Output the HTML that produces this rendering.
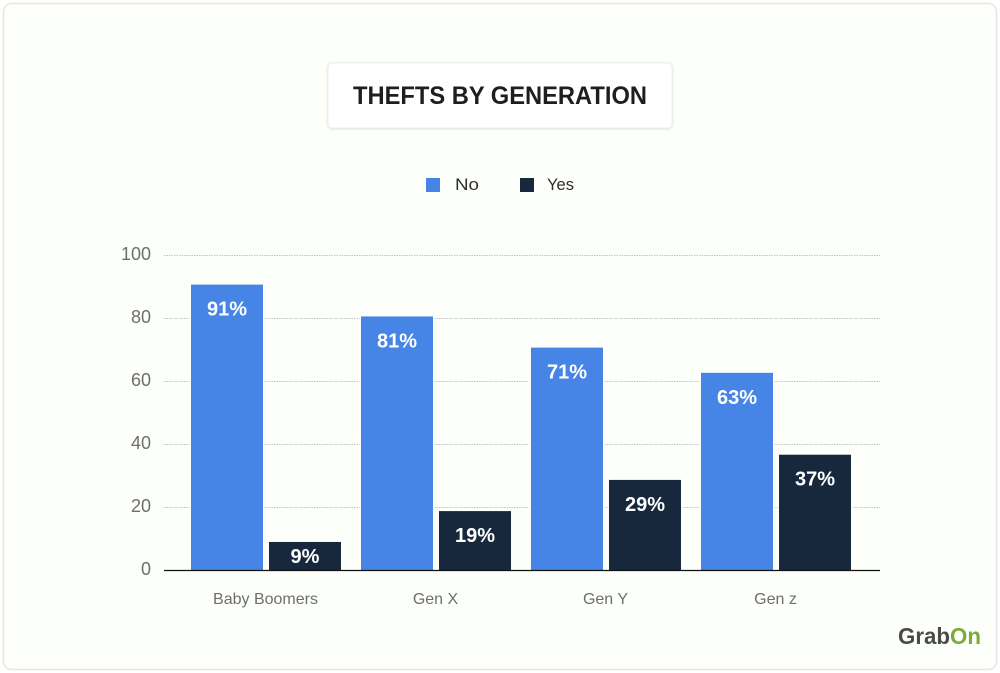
<!DOCTYPE html>
<html lang="en">
<head>
<meta charset="utf-8">
<title>Thefts by Generation</title>
<style>
  html, body { margin: 0; padding: 0; background: #ffffff; }
  body { width: 1000px; height: 673px; overflow: hidden; }
  svg { display: block; font-family: "Liberation Sans", sans-serif; }
</style>
</head>
<body>
<svg id="chart" width="1000" height="673" viewBox="0 0 1000 673" xmlns="http://www.w3.org/2000/svg">
  <defs>
    <filter id="soft" x="-5%" y="-15%" width="110%" height="130%">
      <feDropShadow dx="0" dy="0.5" stdDeviation="1" flood-color="#000000" flood-opacity="0.16"/>
    </filter>
  </defs>
  <rect x="3.5" y="3.5" width="993" height="666" rx="8" fill="#fdfffb" stroke="#e6e6e6" stroke-width="1.5"/>
  <rect x="328" y="63" width="344" height="65" rx="4" fill="#ffffff" stroke="#ececec" filter="url(#soft)"/>
  <text x="500" y="104" text-anchor="middle" font-size="25" font-weight="700" fill="#1e1e20" textLength="294" lengthAdjust="spacingAndGlyphs">THEFTS BY GENERATION</text>
  <g id="legend">
    <rect x="426" y="178" width="14" height="14" fill="#4684e6"/>
    <text x="455" y="190" font-size="17" fill="#2e2e2e" textLength="24" lengthAdjust="spacingAndGlyphs">No</text>
    <rect x="520" y="178" width="14" height="14" fill="#17283d"/>
    <text x="547" y="190" font-size="17" fill="#2e2e2e" textLength="27" lengthAdjust="spacingAndGlyphs">Yes</text>
  </g>
  <g id="grid"></g>
  <g id="yticks"></g>
  <g id="bars"></g>
  <line x1="164" y1="570.5" x2="880" y2="570.5" stroke="#111111" stroke-width="1.3"/>
  <g id="xticks"></g>
  <g>
    <text x="898" y="644" font-size="23" font-weight="700" fill="#4a4a4c" textLength="52" lengthAdjust="spacingAndGlyphs">Grab</text>
    <text x="950" y="644" font-size="23" font-weight="700" fill="#7cab3c" textLength="31" lengthAdjust="spacingAndGlyphs">On</text>
  </g>
</svg>
<script>
const categories = ["Baby Boomers", "Gen X", "Gen Y", "Gen z"];
const noValues = [90.6, 80.5, 70.6, 62.6];
const yesValues = [8.9, 18.7, 28.6, 36.6];
const yTicks = [0, 20, 40, 60, 80, 100];

const SVG_NS = "http://www.w3.org/2000/svg";
const plotBottom = 570;
const plotTop = 255;
const yMax = 100;
const firstCenter = 266;
const bandStep = 170;
const barWidth = 72;
const barOffset = 3;
const gridLeft = 164;
const gridRight = 880;

function yScale(v) {
  return plotBottom - (v / yMax) * (plotBottom - plotTop);
}
function xCenter(i) {
  return firstCenter + i * bandStep;
}
function make(tag, attrs, parent, text) {
  const el = document.createElementNS(SVG_NS, tag);
  Object.keys(attrs).forEach(function (k) { el.setAttribute(k, attrs[k]); });
  if (text !== undefined) el.textContent = text;
  parent.appendChild(el);
  return el;
}

const gridGroup = document.getElementById("grid");
const yTickGroup = document.getElementById("yticks");
yTicks.forEach(function (t) {
  if (t !== 0) {
    const line = make("line", {
      x1: gridLeft, x2: gridRight,
      y1: yScale(t) + 0.5, y2: yScale(t) + 0.5,
      stroke: "#c4c4c4", "stroke-width": 1, "stroke-dasharray": "1.5 1"
    }, gridGroup);
    
    
  }
  const label = make("text", {
    x: 151, y: yScale(t) + 5, "text-anchor": "end",
    "font-size": 18, fill: "#6e6e6e"
  }, yTickGroup, String(t));
  
  
});

const barGroup = document.getElementById("bars");
function drawBar(value, x, color, kind) {
  const top = yScale(value);
  const halo = make("rect", {
    x: x - 1.5, y: top - 1.5, width: barWidth + 3,
    height: plotBottom - top + 1.5, fill: "#fdfffb"
  }, barGroup);
  
  
  const bar = make("rect", {
    x: x, y: top, width: barWidth, height: plotBottom - top, fill: color
  }, barGroup);
  
  
  const labelY = Math.min(top + 31, (top + plotBottom) / 2 + 7);
  const label = make("text", {
    x: x + barWidth / 2, y: labelY, "text-anchor": "middle",
    "font-size": 20, "font-weight": 700, fill: "#ffffff"
  }, barGroup, Math.round(value) + "%");
  
  
}
categories.forEach(function (c, i) {
  drawBar(noValues[i], xCenter(i) - barOffset - barWidth, "#4684e6", "no");
  drawBar(yesValues[i], xCenter(i) + barOffset, "#17283d", "yes");
});

const xTickGroup = document.getElementById("xticks");
categories.forEach(function (c, i) {
  const label = make("text", {
    x: xCenter(i) - 0.5, y: 604, "text-anchor": "middle",
    "font-size": 16, fill: "#6e6e6e"
  }, xTickGroup, c);
  
  
});
</script>
</body>
</html>
